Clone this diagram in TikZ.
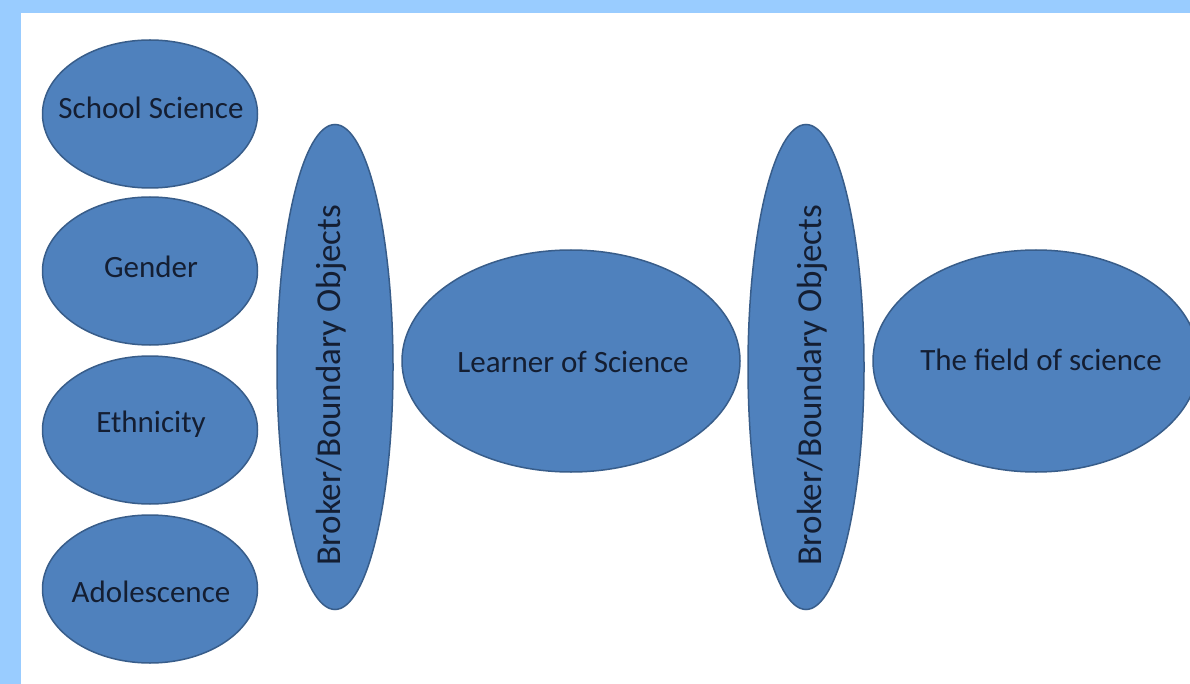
\documentclass[tikz,border=0pt]{standalone}
\usepackage{fontspec}
\setmainfont{Carlito}
\usepackage{tikz}
\usetikzlibrary{shapes.geometric}
\usepackage{color}
\definecolor{frameblue}{RGB}{153,204,255}
\definecolor{blobfill}{RGB}{79,129,189}
\definecolor{blobline}{RGB}{56,93,138}
\definecolor{labelink}{RGB}{20,30,50}

\begin{document}
\begin{tikzpicture}[x=1pt,y=-1pt,
  blob/.style={ellipse,draw=blobline,fill=blobfill,line width=1.5pt,inner sep=0pt},
  blobtext/.style={text=labelink,font=\fontsize{31}{35}\selectfont},
  brokertext/.style={text=labelink,rotate=90,font=\fontsize{35}{39}\selectfont}]
\useasboundingbox (0,0) rectangle (1190,684);
\fill[frameblue] (0,0) rectangle (1190,684);
\fill[white] (21,13) rectangle (1190,684);
\clip (21,13) rectangle (1190,684);
\node[blob,minimum width=215pt,minimum height=148pt] (school) at (150,114) {};
\node[blob,minimum width=215pt,minimum height=148pt] (gender) at (150,271) {};
\node[blob,minimum width=215pt,minimum height=148pt] (ethnic) at (150,430) {};
\node[blob,minimum width=215pt,minimum height=148pt] (adol) at (150,589) {};
\node[blob,minimum width=116pt,minimum height=485pt] (brokerA) at (335,367) {};
\node[blob,minimum width=338pt,minimum height=222pt] (learner) at (571,361) {};
\node[blob,minimum width=116pt,minimum height=485pt] (brokerB) at (806,367) {};
\node[blob,minimum width=326pt,minimum height=222pt] (field) at (1036,361) {};
\node[blobtext] (schooltxt) at (151,108) {School Science};
\node[blobtext] (gendertxt) at (151,267) {Gender};
\node[blobtext] (ethnictxt) at (151,424) {Ethnicity};
\node[blobtext] (adoltxt) at (151,592) {Adolescence};
\node[blobtext] (learnertxt) at (573,362) {Learner of Science};
\node[blobtext] (fieldtxt) at (1041,360) {The field of science};
\node[brokertext] (brokerAtxt) at (331,385) {Broker/Boundary Objects};
\node[brokertext] (brokerBtxt) at (812,385) {Broker/Boundary Objects};
\end{tikzpicture}
\end{document}
